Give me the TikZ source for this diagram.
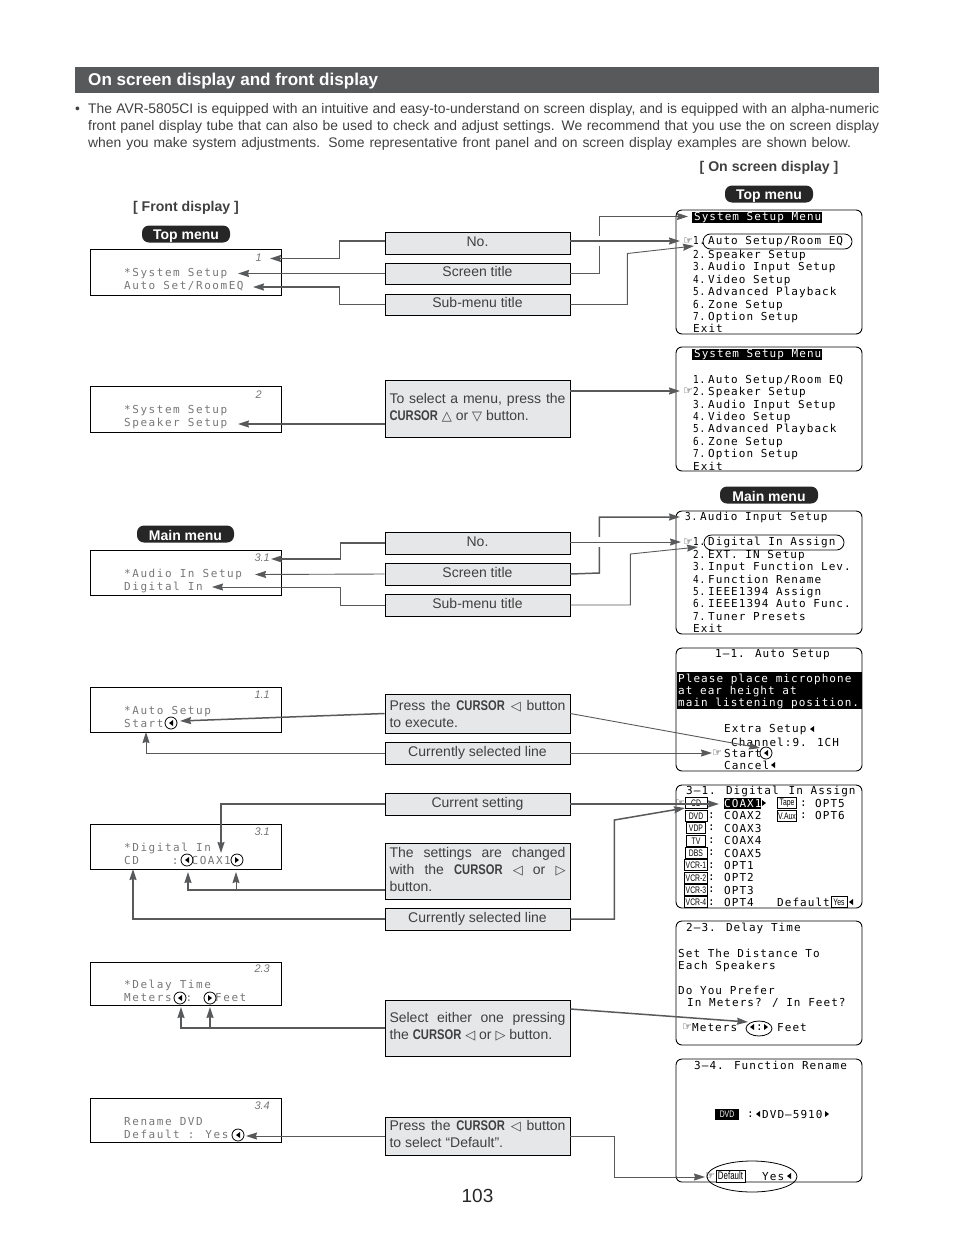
\documentclass[tikz,border=0pt]{standalone}
\usepackage{fontspec}
\usepackage{graphicx}
\usetikzlibrary{arrows.meta,calc}
\setmainfont{Liberation Sans}
\newfontfamily\osdf[LetterSpace=9.5]{DejaVu Sans Mono}
\newfontfamily\lcdf[LetterSpace=14]{DejaVu Sans Mono}
\newfontfamily\symf{DejaVu Sans}
\definecolor{band}{HTML}{58595B}
\definecolor{boxfill}{HTML}{E6E7E8}
\definecolor{txt}{HTML}{404040}
\definecolor{conn}{HTML}{58595B}
\definecolor{lcdc}{HTML}{777777}
\newcommand{\cur}{\scalebox{0.8}[1]{\bfseries CURSOR}}
\newcommand{\jl}[1]{\makebox[176pt][s]{#1}}
\newcommand{\sy}[1]{{\symf\fontsize{13}{13}\selectfont #1}}
\newcommand{\nm}[1]{\makebox[15pt][l]{\scalebox{0.85}[1]{#1} }}
\newcommand{\up}[1]{\rule[-#1]{0pt}{#1}}
\newcommand{\ch}[1]{\scalebox{0.72}[1]{#1}}
\newcommand{\tl}[2]{\fill (#1+2,#2-3)--(#1-2,#2)--(#1+2,#2+3)--cycle;}
\newcommand{\tr}[2]{\fill (#1-2,#2-3)--(#1+2,#2)--(#1-2,#2+3)--cycle;}
\tikzset{
 infobox/.style={draw=black,line width=.8pt,fill=boxfill,minimum width=185pt,inner sep=0pt,text=txt,font=\fontsize{14}{17}\selectfont,align=center},
 lcd/.style={draw=black,line width=1pt,fill=white,minimum width=191pt,inner sep=0pt},
 screen/.style={draw=black,line width=.9pt,fill=white,rounded corners=6pt,minimum width=186pt,inner sep=0pt},
 osd/.style={anchor=north west,inner sep=0pt,align=left,font=\osdf\fontsize{11}{12.4}\selectfont},
 osdc/.style={anchor=west,inner sep=0pt,yshift=-.8pt,font=\osdf\fontsize{11}{12.4}\selectfont},
 lcdt/.style={anchor=north west,inner sep=0pt,yshift=-1pt,align=left,text=lcdc,font=\lcdf\fontsize{11}{12.8}\selectfont},
 lcdn/.style={anchor=east,inner sep=0pt,text=lcdc,font=\itshape\fontsize{11}{12}\selectfont},
 hand/.style={inner sep=0pt,font=\symf\fontsize{11}{11}\selectfont},
 pill/.style={fill=black!85,rounded corners=7pt,text=white,inner sep=0pt,minimum height=17pt,font=\bfseries\fontsize{14}{16}\selectfont,execute at begin node=\rule{0pt}{14pt}},
 sect/.style={inner sep=0pt,text=txt,yshift=-1pt,font=\bfseries\fontsize{14.1}{16}\selectfont},
 para/.style={anchor=west,inner sep=0pt,yshift=-2pt,text=txt,font=\fontsize{13.9}{15}\selectfont},
 chip/.style={draw=black,line width=.8pt,fill=white,inner sep=0pt,minimum height=10.5pt,font=\fontsize{9.5}{10}\selectfont},
 thin/.style={draw=black,line width=.8pt,fill=none},
 cb/.style={conn,line width=1.5pt,-{Stealth[length=11pt,width=7pt,inset=1pt]}},
 ct/.style={conn,line width=.9pt,-{Stealth[length=11pt,width=7pt,inset=1pt]}},
}
\begin{document}
\begin{tikzpicture}[x=1pt,y=-1pt]
\useasboundingbox (0,0) rectangle (954,1237);
% heading
\node[fill=band,minimum width=804pt,minimum height=26pt,inner sep=0pt] (hd) at (477,80) {};
\node[anchor=west,inner sep=0pt,text=white,font=\bfseries\fontsize{17.1}{19}\selectfont] (hdt) at (88,81) {On screen display and front display};
\node[para] (bul) at (75,108) {•};
\node[para] (p1) at (88,108) {\makebox[791pt][s]{The AVR-5805CI is equipped with an intuitive and easy-to-understand on screen display, and is equipped with an alpha-numeric}};
\node[para] (p2) at (88,125) {\makebox[791pt][s]{front panel display tube that can also be used to check and adjust settings. We recommend that you use the on screen display}};
\node[para] (p3) at (88,142) {\makebox[763pt][s]{when you make system adjustments. Some representative front panel and on screen display examples are shown below.}};
\node[sect] (secr) at (769,167) {[ On screen display ]};
\node[sect] (secl) at (186,207) {[ Front display ]};
\node[pill,minimum width=88pt] (pr1) at (769,194) {Top menu};
\node[pill,minimum width=88pt] (pl1) at (186,234) {Top menu};
\node[pill,minimum width=98pt] (pr2) at (769,495) {Main menu};
\node[pill,minimum width=97pt] (pl2) at (185.5,534) {Main menu};
\node[font=\fontsize{19}{20}\selectfont,inner sep=0pt,text=black!85] (pg) at (477.5,1196) {103};

% front displays
\node[lcd,minimum height=46pt] (l1) at (185.5,272) {};
\node[lcd,minimum height=46pt] (l2) at (185.5,409) {};
\node[lcd,minimum height=45pt] (l3) at (185.5,572.5) {};
\node[lcd,minimum height=45pt] (l4) at (185.5,709.5) {};
\node[lcd,minimum height=45pt] (l5) at (185.5,846.5) {};
\node[lcd,minimum height=43pt] (l6) at (185.5,983.5) {};
\node[lcd,minimum height=44pt] (l7) at (185.5,1120) {};
\node[lcdn] (n1) at (262,258) {1};
\node[lcdn] (n2) at (262,395) {2};
\node[lcdn] (n3) at (270,558) {3.1};
\node[lcdn] (n4) at (270,695) {1.1};
\node[lcdn] (n5) at (270,832) {3.1};
\node[lcdn] (n6) at (270,969) {2.3};
\node[lcdn] (n7) at (270,1106) {3.4};
\node[lcdt] (lt1) at (124,267) {*System Setup\\Auto Set/RoomEQ};
\node[lcdt] (lt2) at (124,404) {*System Setup\\Speaker Setup};
\node[lcdt] (lt3) at (124,568) {*Audio In Setup\\Digital In};
\node[lcdt] (lt4) at (124,705) {*Auto Setup\\Start};
\node[lcdt] (lt5) at (124,842) {*Digital In\\CD\hspace{33pt}:\hspace{13pt}COAX1};
\node[lcdt] (lt6) at (124,979) {*Delay Time\\Meters\hspace{14pt}:\hspace{23pt}Feet};
\node[lcdt] (lt7) at (124,1116) {Rename DVD\\Default : Yes};
\node[draw=black,circle,line width=.8pt,minimum size=12pt,inner sep=0pt] (c1) at (171,723) {};
\node[draw=black,circle,line width=.8pt,minimum size=12pt,inner sep=0pt] (c2) at (187,860) {};
\node[draw=black,circle,line width=.8pt,minimum size=12pt,inner sep=0pt] (c3) at (237,860) {};
\node[draw=black,circle,line width=.8pt,minimum size=12pt,inner sep=0pt] (c4) at (180,998) {};
\node[draw=black,circle,line width=.8pt,minimum size=12pt,inner sep=0pt] (c5) at (210,998) {};
\node[draw=black,circle,line width=.8pt,minimum size=12pt,inner sep=0pt] (c6) at (238,1135) {};
\tl{171}{723} \tl{187}{860} \tr{237}{860} \tl{180}{998} \tr{210}{998} \tl{238}{1135}

% on screen displays
\node[screen,minimum height=124pt] (s1) at (769,272) {};
\node[screen,minimum height=124pt] (s2) at (769,409) {};
\node[screen,minimum height=123pt] (s3) at (769,572.5) {};
\node[screen,minimum height=123pt] (s4) at (769,709.5) {};
\node[screen,minimum height=123pt] (s5) at (769,846.5) {};
\node[screen,minimum height=124pt] (s6) at (769,983) {};
\node[screen,minimum height=123pt] (s7) at (769,1120.5) {};
% screen 1
\node[fill=black,text=white,osdc,minimum height=11pt,minimum width=130pt] (s1h) at (692,216.5) {\hspace{1pt}System Setup Menu};
\node[hand] (s1p) at (688,241) {☞};
\node[osdc] (s1a) at (693,241) {\nm{1.}Auto Setup/Room EQ};
\node[osd] (s1b) at (693,250) {\nm{2.}Speaker Setup\\\nm{3.}Audio Input Setup\\\nm{4.}Video Setup\\\nm{5.}Advanced Playback\\\nm{6.}Zone Setup\\\nm{7.}Option Setup\\Exit};
\draw[thin,rounded corners=7.5pt] (703,234) rectangle (852,249);
% screen 2
\node[fill=black,text=white,osdc,minimum height=11pt,minimum width=130pt] (s2h) at (692,353.5) {\hspace{1pt}System Setup Menu};
\node[hand] (s2p) at (688,391) {☞};
\node[osd] (s2b) at (693,375) {\nm{1.}Auto Setup/Room EQ\\\nm{2.}Speaker Setup\\\nm{3.}Audio Input Setup\\\nm{4.}Video Setup\\\nm{5.}Advanced Playback\\\nm{6.}Zone Setup\\\nm{7.}Option Setup\\Exit};
% screen 3
\node[osdc] (s3h) at (685,517) {\nm{3.}Audio Input Setup};
\node[hand] (s3p) at (688,542) {☞};
\node[osdc] (s3a) at (693,542) {\nm{1.}Digital In Assign};
\node[osd] (s3b) at (693,550) {\nm{2.}EXT. IN Setup\\\nm{3.}Input Function Lev.\\\nm{4.}Function Rename\\\nm{5.}IEEE1394 Assign\\\nm{6.}IEEE1394 Auto Func.\\\nm{7.}Tuner Presets\\Exit};
\draw[thin,rounded corners=7.5pt] (704,535) rectangle (844,550);
% screen 4
\node[osdc] (s4h) at (715,654) {1—1. Auto Setup};
\node[fill=black,minimum width=185pt,minimum height=37pt,inner sep=0pt] (s4k) at (769,690.5) {};
\node[osdc,text=white] (s4k1) at (678,679) {Please place microphone};
\node[osdc,text=white] (s4k2) at (678,691) {at ear height at};
\node[osdc,text=white] (s4k3) at (678,703) {main listening position.};
\node[osdc] (s4a) at (724,729) {Extra Setup};
\node[osdc] (s4b) at (731,742) {Channel:9. 1CH};
\node[hand] (s4p) at (717,753) {☞};
\node[osdc] (s4c) at (724,753) {Start};
\node[osdc] (s4d) at (724,765) {Cancel};
\node[draw=black,circle,line width=.8pt,minimum size=12pt,inner sep=0pt] (c7) at (766,753) {};
\tl{812}{729} \tl{766}{753} \tl{773}{765}
% screen 5
\node[osdc] (s5h) at (686,791) {3—1. Digital\hspace{10pt}In Assign};
\node[hand] (s5p) at (680,803) {☞};
\node[chip,minimum width=22pt] (b1) at (696,803) {\ch{CD}};
\node[chip,minimum width=22pt] (b2) at (696,816) {\ch{DVD}};
\node[chip,minimum width=19pt] (b3) at (696,828) {\ch{VDP}};
\node[chip,minimum width=19pt] (b4) at (696,841) {\ch{TV}};
\node[chip,minimum width=22pt] (b5) at (696,853) {\ch{DBS}};
\node[chip,minimum width=23pt] (b6) at (696,865) {\ch{VCR-1}};
\node[chip,minimum width=23pt] (b7) at (696,878) {\ch{VCR-2}};
\node[chip,minimum width=23pt] (b8) at (696,890) {\ch{VCR-3}};
\node[chip,minimum width=23pt] (b9) at (696,902) {\ch{VCR-4}};
\node[osd] (s5col) at (708,812.5) {:\\:\\:\\:\\:\\:\\:\\:};
\node[fill=black,minimum width=37pt,minimum height=11pt,inner sep=0pt] (s5k) at (742.5,803) {};
\node[osdc,text=white] (s5c) at (724,803) {COAX1};
\node[osd] (s5l) at (724,811.5) {COAX2\\COAX3\\COAX4\\COAX5\\OPT1\\OPT2\\OPT3\\OPT4};
\tr{764}{803}
\node[chip,minimum width=19pt] (bt) at (787,803) {\ch{Tape}};
\node[chip,minimum width=19pt] (bv) at (787,816) {\ch{V.Aux}};
\node[osd] (s5m) at (800,800.5) {:\\:};
\node[osd] (s5r) at (815,799) {OPT5\\OPT6};
\node[osdc] (s5d) at (777,902) {Default};
\node[chip,minimum width=16pt] (by) at (839,902) {\ch{Yes}};
\tl{851}{902}
% screen 6
\node[osdc] (s6h) at (686,928) {2–3. Delay Time};
\node[osd] (s6a) at (678,949) {Set The Distance To\\Each Speakers};
\node[osd] (s6b) at (678,986) {Do You Prefer\\\hspace{9pt}In Meters? / In Feet?};
\node[hand] (s6p) at (687,1027) {☞};
\node[osdc] (s6c) at (692,1027) {Meters};
\node[osdc] (s6e) at (756,1027) {:};
\node[osdc] (s6f) at (777,1027) {Feet};
\draw[thin] (759,1028.5) ellipse [x radius=13,y radius=7.5];
\tl{752}{1027} \tr{766}{1027}
% screen 7
\node[osdc] (s7h) at (694,1065) {3—4. Function Rename};
\node[fill=black,text=white,inner sep=0pt,minimum width=24pt,minimum height=11pt,font=\fontsize{9.5}{10}\selectfont] (s7k) at (727,1114) {\ch{DVD}};
\node[osdc] (s7c) at (747,1114) {:};
\node[osdc] (s7d) at (762,1114) {DVD—5910};
\tl{758}{1114} \tr{827}{1114}
\node[hand] (s7p) at (710,1176) {☞};
\node[chip,minimum width=29pt,minimum height=12pt,font=\fontsize{11}{12}\selectfont] (s7b) at (730.5,1176) {\ch{Default}};
\node[osdc] (s7y) at (762,1176) {Yes};
\tl{789}{1176}
\draw[thin] (752,1176.5) ellipse [x radius=45,y radius=15.5];

% info boxes
\node[infobox,minimum height=22pt] (a1) at (477.5,243) {No.\up{3.5pt}};
\node[infobox,minimum height=21pt] (a2) at (477.5,273.5) {Screen title\up{3.5pt}};
\node[infobox,minimum height=21pt] (a3) at (477.5,304.5) {Sub-menu title\up{3.5pt}};
\node[infobox,minimum height=57pt] (a4) at (477.5,408.5) {\jl{To select a menu, press the}\\\makebox[176pt][l]{\cur{} \sy{△} or \sy{▽} button.\up{3pt}}};
\node[infobox,minimum height=22pt] (b21) at (477.5,543) {No.\up{3pt}};
\node[infobox,minimum height=22pt] (b22) at (477.5,574) {Screen title\up{3pt}};
\node[infobox,minimum height=22pt] (b23) at (477.5,605) {Sub-menu title\up{3pt}};
\node[infobox,minimum height=39pt] (a5) at (477.5,713.5) {\jl{Press the \cur{} \sy{◁} button}\\\makebox[176pt][l]{to execute.}};
\node[infobox,minimum height=22pt] (a6) at (477.5,753) {Currently selected line};
\node[infobox,minimum height=22pt] (a7) at (477.5,804) {Current setting\up{3.5pt}};
\node[infobox,minimum height=56pt] (a8) at (477.5,871) {\jl{The settings are changed}\\\jl{with the \cur{} \sy{◁} or \sy{▷}}\\\makebox[176pt][l]{button.\up{3pt}}};
\node[infobox,minimum height=22pt] (a9) at (477.5,919) {Currently selected line};
\node[infobox,minimum height=56pt] (a10) at (477.5,1028) {\jl{Select either one pressing}\\\makebox[176pt][l]{the \cur{} \sy{◁} or \sy{▷} button.\up{5pt}}};
\node[infobox,minimum height=38pt] (a11) at (477.5,1136) {\jl{Press the \cur{} \sy{◁} button}\\\makebox[176pt][l]{to select “Default”.\up{4pt}}};

% connector ends
\coordinate (t1) at (270,258.5);
\coordinate (t2) at (238,273.5);
\coordinate (t3) at (253,287);
\coordinate (t4) at (680,241);
\coordinate (t5) at (688,216.5);
\coordinate (t6) at (694,246);
\coordinate (t7) at (680,391);
\coordinate (t8) at (238,424);
\coordinate (t9) at (271,559);
\coordinate (t10) at (255,574.5);
\coordinate (t11) at (212,587);
\coordinate (t12) at (681,542);
\coordinate (t13) at (680,517);
\coordinate (t14) at (698,547);
\coordinate (t15) at (180,721);
\coordinate (t16) at (760,748);
\coordinate (t17) at (146,732);
\coordinate (t18) at (712,753);
\coordinate (t19) at (221,853);
\coordinate (t20) at (719,804);
\coordinate (t21) at (188,872);
\coordinate (t22) at (236,872);
\coordinate (t23) at (133,869);
\coordinate (t24) at (685,808);
\coordinate (t25) at (181,1007);
\coordinate (t26) at (210,1007);
\coordinate (t27) at (748,1022);
\coordinate (t28) at (246,1136);
\coordinate (t29) at (705,1177);

% connectors
\draw[cb] ([yshift=2pt]a1.west) -- ++(-45,0) |- (t1);
\draw[cb] (a2.west) -- (t2);
\draw[cb] (a3.west) -- ++(-45,0) |- (t3);
\draw[ct] (a2.east) -- ++(29,0) |- (t5);
\fill[white] (594,236) rectangle (604,246);
\draw[cb] ([yshift=2pt]a1.east) -- (t4);
\draw[ct] (a3.east) -- ++(57,0) -- ++(0,-51) -- (t6);
\draw[cb] ([yshift=17.5pt]a4.east) -- (t7);
\draw[cb] ([yshift=-15.5pt]a4.west) -- (t8);
\draw[cb] (b21.west) -- ++(-44,0) |- (t9);
\draw[ct] (b22.west) -- (t10);
\draw[ct] (b23.west) -- ++(-44,0) |- (t11);
\draw[cb] (b22.east) -- ++(29,-1) |- (t13);
\fill[white] (594,537) rectangle (604,547);
\draw[ct] ([yshift=1pt]b21.east) -- (t12);
\draw[ct] (b23.east) -- ++(60,0) -- ++(0,-51) -- (t14);
\draw[cb] (a5.west) -- (t15);
\draw[ct] (a5.east) -- (t16);
\draw[ct] (a6.west) -| (t17);
\draw[ct] (a6.east) -- (t18);
\draw[cb] (a7.west) -| (t19);
\draw[cb] (a7.east) -- (t20);
\draw[cb] ([yshift=-19pt]a8.west) -| (t21);
\draw[ct] (t22 |- a8.west) ++(0,19) -- (t22);
\draw[cb] (a9.west) -| (t23);
\draw[cb] (a9.east) -- ++(44,0) -- ++(0,-99) -- (t24);
\draw[cb] (a10.west) -| (t25);
\draw[cb] (t26 |- a10.west) ++(0,-1) -- (t26);
\draw[cb] ([yshift=19pt]a10.east) -- (t27);
\draw[ct] (a11.west) -- (t28);
\draw[ct] (a11.east) -- ++(44,0) |- (t29);
\end{tikzpicture}
\end{document}
